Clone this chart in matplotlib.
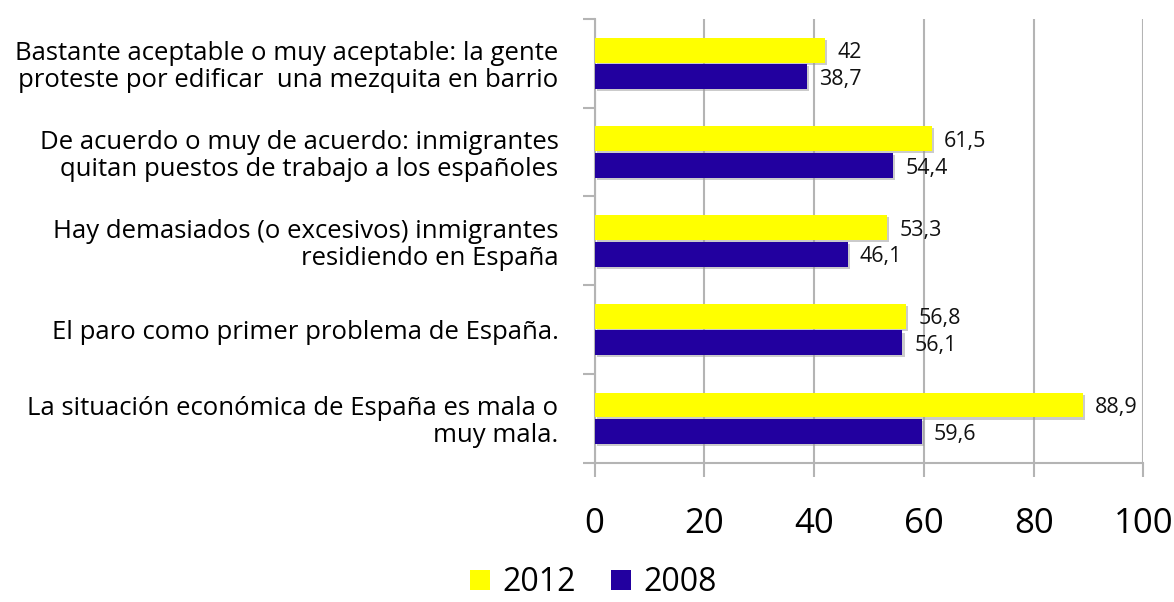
import matplotlib
matplotlib.use('Agg')
import matplotlib.pyplot as plt
import matplotlib.patheffects as pe
from matplotlib.patches import Patch
import numpy as np

plt.rcParams['font.family'] = ['Open Sans', 'DejaVu Sans']

categories = [
    'Bastante aceptable o muy aceptable: la gente\nproteste por edificar  una mezquita en barrio',
    'De acuerdo o muy de acuerdo: inmigrantes\nquitan puestos de trabajo a los españoles',
    'Hay demasiados (o excesivos) inmigrantes\nresidiendo en España',
    'El paro como primer problema de España.',
    'La situación económica de España es mala o\nmuy mala.',
]
vals_2012 = [42, 61.5, 53.3, 56.8, 88.9]
vals_2008 = [38.7, 54.4, 46.1, 56.1, 59.6]
series_names = ['2012', '2008']
colors = ['#FFFF00', '#22009F']
grid_col = '#B4B4B4'


def fmt(v):
    s = f'{v:g}'
    return s.replace('.', ',')


fig = plt.figure(figsize=(11.74, 6.02), dpi=100)
ax = fig.add_axes([0.5064, 0.2314, 0.4676, 0.737])

y = np.arange(len(categories))
h = 0.28
off = 0.15
shadow = [pe.SimplePatchShadow(offset=(1.5, -1.5), shadow_rgbFace='#999999', alpha=0.5), pe.Normal()]

b1 = ax.barh(y - off, vals_2012, height=h, color=colors[0], zorder=3)
b2 = ax.barh(y + off, vals_2008, height=h, color=colors[1], zorder=3)
for b in list(b1) + list(b2):
    b.set_path_effects(shadow)

for yi, v in zip(y - off, vals_2012):
    ax.text(v + 2.2, yi + 0.03, fmt(v), va='center', ha='left', fontsize=15.5, color='#111111')
for yi, v in zip(y + off, vals_2008):
    ax.text(v + 2.2, yi + 0.03, fmt(v), va='center', ha='left', fontsize=15.5, color='#111111')

ax.set_xlim(0, 100)
ax.set_ylim(len(categories) - 0.5, -0.5)
ax.set_xticks(np.arange(0, 101, 20))
ax.set_xticklabels([str(t) for t in range(0, 101, 20)], fontsize=25)
ax.tick_params(axis='x', length=10, width=1.5, color=grid_col, pad=22)

ax.set_yticks(y)
ax.set_yticklabels(categories, fontsize=18.5, linespacing=1.1)
ax.tick_params(axis='y', length=0, pad=26)
ax.set_yticks(np.arange(-0.5, len(categories), 1), minor=True)
ax.tick_params(axis='y', which='minor', length=9, width=1.5, color=grid_col)

ax.grid(axis='x', color=grid_col, linewidth=1.5, zorder=0)
ax.set_axisbelow(True)
for s in ['top', 'right']:
    ax.spines[s].set_visible(False)
for s in ['left', 'bottom']:
    ax.spines[s].set_color(grid_col)
    ax.spines[s].set_linewidth(1.5)

handles = [Patch(facecolor=c, label=n) for c, n in zip(colors, series_names)]
fig.legend(handles=handles, loc='center', bbox_to_anchor=(0.5055, 0.032), ncol=2,
           frameon=False, fontsize=23, handlelength=0.62, handleheight=0.62,
           handletextpad=0.4, columnspacing=1.1)

fig.savefig('out.png', dpi=100, facecolor='white')
